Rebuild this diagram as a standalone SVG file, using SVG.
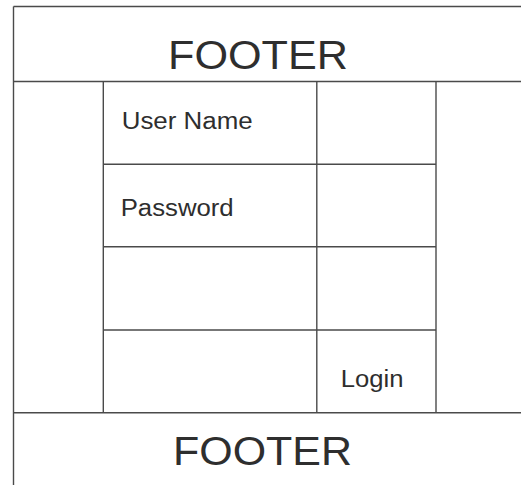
<svg xmlns="http://www.w3.org/2000/svg" width="521" height="485" viewBox="0 0 521 485">
<style>
.ln{stroke:#4a4a4a;stroke-width:1.4;fill:none}
.t{font-family:"Liberation Sans",Arial,sans-serif;fill:#2e2e2e}
.big{font-size:41px}
.sm{font-size:23px}
</style>
<rect width="521" height="485" fill="#ffffff"/>
<g id="connectors">
<line class="ln" x1="13.5" y1="6.5" x2="521" y2="6.5"/>
<line class="ln" x1="13.5" y1="6.5" x2="13.5" y2="485"/>
<line class="ln" x1="13.5" y1="81.5" x2="521" y2="81.5"/>
<line class="ln" x1="13.5" y1="412.7" x2="521" y2="412.7"/>
<line class="ln" x1="103.3" y1="81.5" x2="103.3" y2="412.7"/>
<line class="ln" x1="316.8" y1="81.5" x2="316.8" y2="412.7"/>
<line class="ln" x1="436" y1="81.5" x2="436" y2="412.7"/>
<line class="ln" x1="103.3" y1="164.3" x2="436" y2="164.3"/>
<line class="ln" x1="103.3" y1="246.7" x2="436" y2="246.7"/>
<line class="ln" x1="103.3" y1="330" x2="436" y2="330"/>
</g>
<g id="header"><text class="t big" x="168" y="69" textLength="180" lengthAdjust="spacingAndGlyphs">FOOTER</text></g>
<g id="footer"><text class="t big" x="173" y="465" textLength="179" lengthAdjust="spacingAndGlyphs">FOOTER</text></g>
<g id="username"><text class="t sm" x="121.7" y="129.3" textLength="131" lengthAdjust="spacingAndGlyphs">User Name</text></g>
<g id="password"><text class="t sm" x="120.7" y="216" textLength="113" lengthAdjust="spacingAndGlyphs">Password</text></g>
<g id="login"><text class="t sm" x="340.7" y="387.3" textLength="62.7" lengthAdjust="spacingAndGlyphs">Login</text></g>
</svg>
